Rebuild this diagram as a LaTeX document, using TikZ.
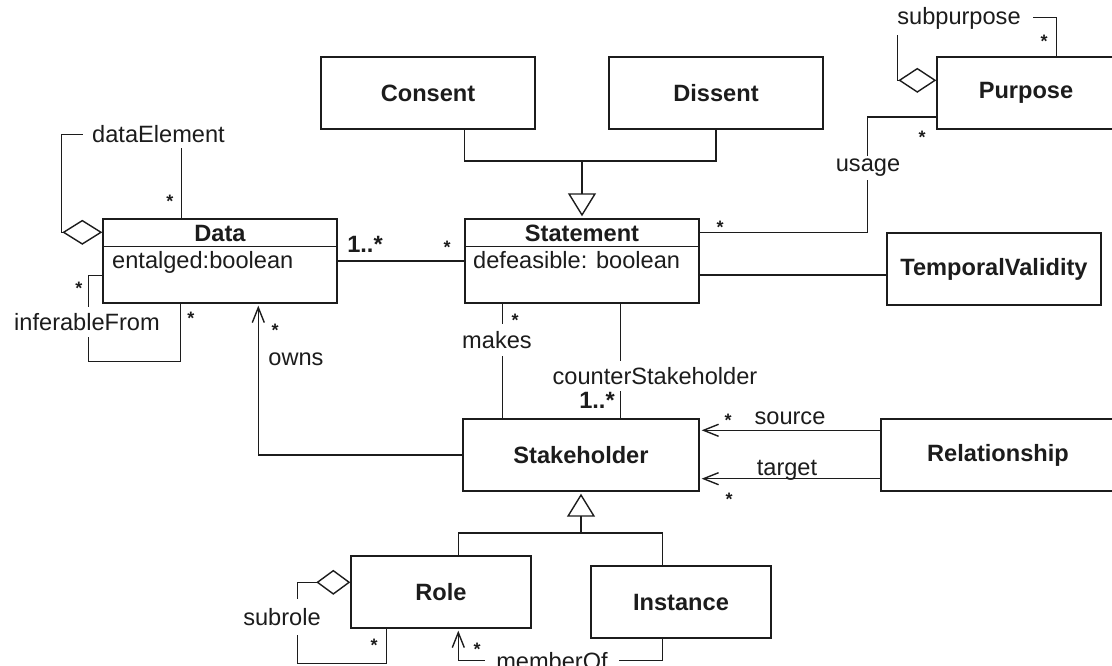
\documentclass[tikz,border=0pt]{standalone}
\usepackage{fontspec}
\setmainfont{Liberation Sans}
\usetikzlibrary{arrows.meta,calc}
\definecolor{ink}{HTML}{1C1C1C}
\newcommand{\umlfont}{\fontsize{23.6}{28}\selectfont}
\newcommand{\starfont}{\fontsize{18}{20}\selectfont}
\begin{document}
\begin{tikzpicture}[x=1pt,y=-1pt,
  font=\umlfont,
  cls/.style={draw=ink, line width=1.4pt, inner sep=0pt, font=\umlfont\bfseries, text=ink},
  ttl/.style={font=\umlfont\bfseries, text=ink, inner sep=0pt},
  lab/.style={font=\umlfont, text=ink, inner sep=0pt},
  lblcut/.style={lab, fill=white, inner xsep=#1, inner ysep=5pt},
  lblcut/.default=4pt,
  mult/.style={font=\umlfont\bfseries, text=ink, inner sep=0pt, anchor=base},
  mstar/.style={mult, font=\starfont\bfseries, yshift=-10.3pt},
  conn/.style={draw=ink, line width=1.4pt},
  gen/.style={conn, -{Triangle[open, length=23pt, width=28pt]}, shorten >=2pt},
  nav/.style={conn, -{Straight Barb[length=15pt, width=12pt]}, shorten >=2pt},
  aggr/.style={conn, {Diamond[open, length=#1, width=25pt]}-},
  aggr/.default=38pt]

\useasboundingbox (0,0) rectangle (1112,665);

% ---------- classes ----------
\node[cls, minimum width=234pt, minimum height=84pt] (data) at (220,261) {};
\node[ttl] (dataname) at (220,233) {Data};
\node[lab, anchor=base west] (dataattr) at (112,268) {entalged:boolean};
\draw[conn] ($(data.north west)+(0,28)$) -- ($(data.north east)+(0,28)$);

\node[cls, minimum width=234pt, minimum height=84pt] (statement) at (582,261) {};
\node[ttl] (statementname) at (582,233) {Statement};
\node[lab, anchor=base west] (statementattr) at (473,268) {defeasible: boolean};
\draw[conn] ($(statement.north west)+(0,28)$) -- ($(statement.north east)+(0,28)$);

\node[cls, minimum width=214pt, minimum height=72pt] (consent) at (428,93) {Consent};
\node[cls, minimum width=214pt, minimum height=72pt] (dissent) at (716,93) {Dissent};
\node[cls, minimum width=178pt, minimum height=72pt] (purpose) at (1026,93) {Purpose};
\node[cls, minimum width=214pt, minimum height=72pt] (temporal) at (994,269) {TemporalValidity};
\node[cls, minimum width=236pt, minimum height=72pt] (stakeholder) at (581,455) {Stakeholder};
\node[cls, minimum width=234pt, minimum height=72pt] (relationship) at (998,455) {Relationship};
\node[cls, minimum width=180pt, minimum height=72pt] (role) at (441,592) {Role};
\node[cls, minimum width=180pt, minimum height=72pt] (instance) at (681,602) {Instance};

% ---------- helper points ----------
\coordinate (genA) at (582,161);
\coordinate (genB) at (581,533);
\coordinate (stTV) at ($(statement.east)+(0,14)$);
\coordinate (mk) at ($(statement.south west)+(38,0)$);
\coordinate (cs) at ($(statement.south west)+(156,0)$);
\coordinate (src) at ($(relationship.north west)+(0,12)$);
\coordinate (tgt) at ($(relationship.south west)+(0,-13)$);

% ---------- generalisations ----------
\draw[conn] ($(consent.south west)+(144,0)$) |- (genA) -| (dissent.south);
\draw[gen] (genA) -- (genA |- statement.north);
\draw[conn] ($(role.north west)+(108,0)$) |- (genB) -| ($(instance.north west)+(72,0)$);
\draw[gen] (genB) -- (genB |- stakeholder.south);

% ---------- associations ----------
\draw[conn] (data.east) -- (statement.west);
\draw[conn] ($(statement.north east)+(0,14)$) -| ($(purpose.west)+(-69,24)$) -- ($(purpose.west)+(0,24)$);
\draw[conn] (stTV) -- (stTV -| temporal.west);
\draw[conn] (mk) -- (mk |- stakeholder.north);
\draw[conn] (cs) -- (cs |- stakeholder.north);
\draw[nav] (src) -- (src -| stakeholder.east);
\draw[nav] (tgt) -- (tgt -| stakeholder.east);
\draw[nav] (stakeholder.west) -| ($(data.south west)+(156,0)$);
\draw[conn] ($(data.south west)+(0,-28)$) -- ++(-14,0) |- ($(data.south west)+(78,58)$) -- ($(data.south west)+(78,0)$);
\draw[nav] ($(instance.south west)+(72,0)$) |- ($(role.south west)+(108,32)$) -- ($(role.south west)+(108,0)$);

% ---------- aggregations ----------
\draw[aggr=40pt] ($(data.north west)+(0,14)$) -- ++(-41,0) |- ($(data.north west)+(79,-84)$) -- ($(data.north west)+(79,0)$);
\draw[aggr] ($(purpose.north west)+(0,24)$) -- ++(-39,0) |- ($(purpose.north west)+(120,-39)$) -- ($(purpose.north west)+(120,0)$);
\draw[aggr=34pt] ($(role.north west)+(0,27)$) -- ++(-53,0) |- ($(role.south west)+(36,35)$) -- ($(role.south west)+(36,0)$);

% ---------- role names ----------
\node[lblcut=9pt] (lbldataelement) at (158.5,134) {dataElement};
\node[lblcut=3pt, inner ysep=6pt] (lblinferable) at (87,322) {inferableFrom};
\node[lab] (lblowns) at (296,359) {owns};
\node[lblcut=3pt, inner ysep=7pt] (lblmakes) at (497,340) {makes};
\node[lblcut=3pt, inner ysep=6pt] (lblcounter) at (655,376) {counterStakeholder};
\node[lblcut=3pt, inner ysep=3pt] (lblusage) at (868,168) {usage};
\node[lblcut=12pt] (lblsubpurpose) at (959,18.5) {subpurpose};
\node[lab, anchor=base] (lblsource) at (790,424) {source};
\node[lab, anchor=base] (lbltarget) at (787,475) {target};
\node[lblcut=3pt, inner ysep=9pt] (lblsubrole) at (282,617) {subrole};
\node[lblcut=11pt] (lblmember) at (552,661.5) {memberOf};

% ---------- multiplicities ----------
\node[mult] (m1) at (365,252) {1..*};
\node[mstar] (m2) at (447,243) {*};
\node[mstar] (m3) at (720,223) {*};
\node[mstar] (m4) at (922,133) {*};
\node[mstar] (m5) at (1044,37) {*};
\node[mstar] (m6) at (170,197) {*};
\node[mstar] (m7) at (79,284) {*};
\node[mstar] (m8) at (191,314) {*};
\node[mstar] (m9) at (275,326) {*};
\node[mstar] (m10) at (515,316) {*};
\node[mult] (m11) at (597,408) {1..*};
\node[mstar] (m12) at (728,416) {*};
\node[mstar] (m13) at (729,495) {*};
\node[mstar] (m14) at (374,641) {*};
\node[mstar] (m15) at (477,645) {*};
\end{tikzpicture}
\end{document}
